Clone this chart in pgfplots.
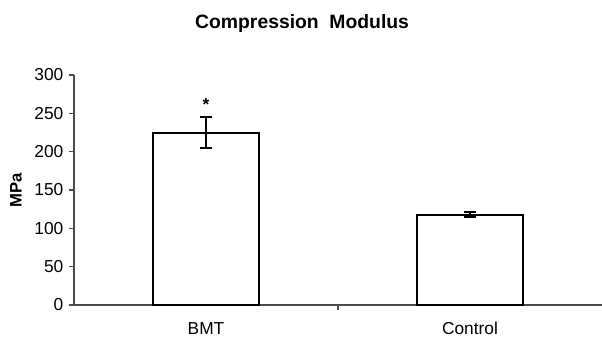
\documentclass[border=0pt]{standalone}
\usepackage{fontspec}
\setmainfont{Liberation Sans}
\usepackage{pgfplots}
\pgfplotsset{compat=1.18}
\begin{document}
\begin{tikzpicture}
\useasboundingbox (0,0) rectangle (451.5pt,252.75pt);
\begin{axis}[
  at={(55.5pt,24pt)}, anchor=south west,
  scale only axis, width=396pt, height=172.5pt,
  xmin=-0.5, xmax=1.5, ymin=0, ymax=300,
  axis x line*=bottom, axis y line*=left,
  axis line style={draw=black!70, line width=0.8pt},
  xtick={0.5}, xticklabels={},
  extra x ticks={0,1}, extra x tick labels={BMT,Control},
  extra x tick style={major tick length=0pt, tick label style={yshift=-9.5pt}},
  ytick={0,50,...,300},
  tick align=outside,
  major tick length=3.5pt,
  tick style={draw=black!70, line width=0.8pt},
  tick label style={font=\fontsize{13}{15}\selectfont},
  /pgf/number format/assume math mode=true,
  yticklabel style={xshift=-1pt},
  title={Compression\ \ Modulus},
  title style={font=\bfseries\fontsize{14.5}{17}\selectfont, at={(axis description cs:0.432,1.189)}, anchor=center},
  ylabel={MPa},
  ylabel style={font=\bfseries\fontsize{12.5}{15}\selectfont, at={(axis description cs:-0.11,0.5)}, anchor=center},
  ybar, bar width=79.5pt,
  clip=false,
]
\addplot[draw=black, fill=white, line width=1.5pt,
  error bars/.cd, y dir=both, y explicit,
  error bar style={line width=1.4pt, draw=black},
  error mark options={rotate=90, mark size=4.5pt, line width=1.4pt, draw=black}]
  coordinates {(0,225) +- (0,20.5) (1,118) +- (0,3)};
\node[font=\bfseries\fontsize{13}{15}\selectfont] at (axis cs:0,262) {*};
\end{axis}
\end{tikzpicture}
\end{document}
